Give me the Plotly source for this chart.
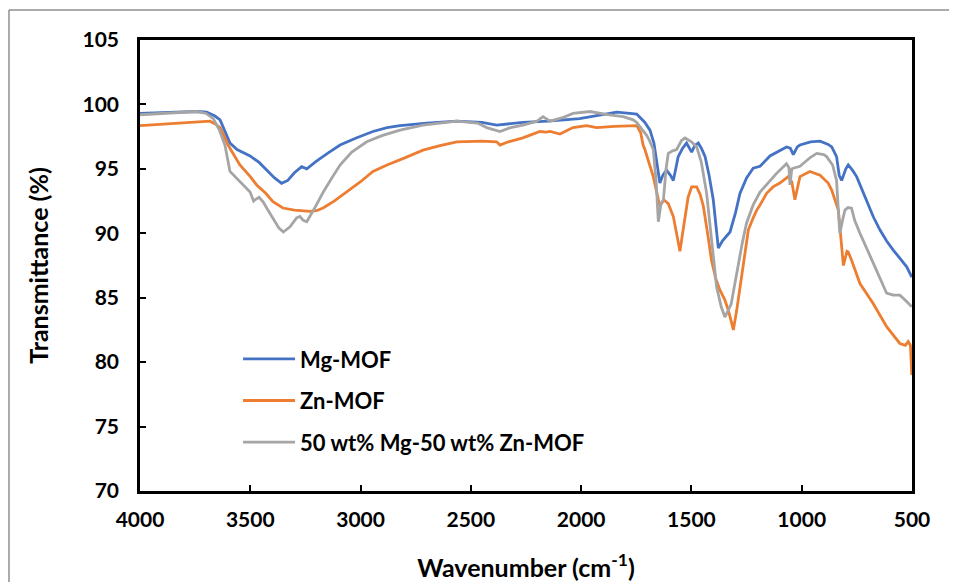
import plotly.graph_objects as go

# FTIR spectra
mg_wn = [4000, 3900, 3800, 3740, 3698, 3660, 3637, 3615, 3592, 3560, 3501, 3460, 3426, 3390, 3358,
         3330, 3300, 3267, 3244, 3200, 3150, 3093, 3020, 2944, 2880, 2821, 2700, 2564, 2450, 2383,
         2264, 2150, 2007, 1900, 1839, 1780, 1748, 1711, 1688, 1670, 1658, 1643, 1630, 1613, 1595,
         1582, 1560, 1540, 1522, 1499, 1485, 1469, 1455, 1438, 1420, 1401, 1378, 1360, 1325, 1300,
         1280, 1250, 1220, 1189, 1144, 1100, 1069, 1052, 1038, 1020, 1008, 960, 917, 880, 864,
         842, 830, 819, 800, 789, 770, 751, 706, 676, 645, 615, 585, 555, 524, 501]
mg_t = [99.3, 99.35, 99.4, 99.45, 99.4, 99.1, 98.8, 97.9, 97.0, 96.5, 96.0, 95.5, 94.9, 94.3, 93.88,
        94.1, 94.7, 95.17, 95.0, 95.6, 96.2, 96.85, 97.4, 97.9, 98.2, 98.35, 98.55, 98.7, 98.6, 98.4,
        98.6, 98.7, 98.9, 99.2, 99.4, 99.3, 99.25, 98.6, 98.0, 97.0, 95.7, 93.9, 94.5, 94.9, 94.5,
        94.1, 95.95, 96.6, 97.0, 96.3, 96.8, 97.0, 96.6, 95.95, 94.5, 92.6, 88.85, 89.4, 90.1, 91.6,
        93.1, 94.3, 95.05, 95.2, 96.0, 96.4, 96.7, 96.6, 96.1, 96.7, 96.85, 97.1, 97.15, 96.9, 96.7,
        95.95, 94.5, 94.1, 95.0, 95.3, 94.9, 94.4, 92.6, 91.3, 90.25, 89.4, 88.7, 88.1, 87.4, 86.6]

zn_wn = [4000, 3900, 3800, 3683, 3660, 3637, 3615, 3601, 3547, 3500, 3471, 3430, 3397, 3352, 3300,
         3229, 3200, 3170, 3120, 3063, 3000, 2944, 2880, 2800, 2717, 2640, 2564, 2450, 2383, 2368,
         2330, 2264, 2200, 2187, 2160, 2141, 2096, 2060, 2037, 1975, 1930, 1850, 1748, 1730, 1719,
         1711, 1690, 1673, 1655, 1643, 1625, 1605, 1582, 1565, 1552, 1540, 1529, 1515, 1499, 1476,
         1460, 1446, 1425, 1409, 1390, 1371, 1350, 1333, 1320, 1310, 1295, 1280, 1260, 1242, 1220,
         1204, 1189, 1159, 1130, 1099, 1061, 1045, 1031, 1020, 1008, 963, 917, 880, 864, 834,
         822, 811, 795, 789, 774, 736, 676, 615, 555, 530, 517, 507, 501]
zn_t = [98.35, 98.45, 98.6, 98.7, 98.5, 98.2, 97.4, 96.85, 95.3, 94.4, 93.75, 93.1, 92.45, 91.96, 91.8,
        91.7, 91.75, 91.96, 92.5, 93.2, 94.0, 94.8, 95.3, 95.85, 96.45, 96.8, 97.1, 97.15, 97.1, 96.85,
        97.1, 97.4, 97.8, 97.9, 97.85, 97.9, 97.7, 98.0, 98.2, 98.35, 98.2, 98.3, 98.35, 97.8, 96.85,
        96.5, 95.3, 94.4, 93.0, 92.1, 92.6, 92.3, 91.3, 89.8, 88.6, 90.0, 91.3, 92.8, 93.6, 93.6,
        93.0, 92.1, 89.8, 87.9, 86.5, 85.6, 84.9, 84.05, 83.2, 82.5, 84.0, 85.85, 88.2, 90.25, 91.2,
        91.8, 92.2, 93.1, 93.6, 93.9, 94.4, 94.0, 92.6, 93.6, 94.4, 94.8, 94.5, 93.9, 93.35, 91.8,
        89.5, 87.5, 88.6, 88.55, 87.9, 86.1, 84.55, 82.75, 81.45, 81.3, 81.6, 81.3, 79.0]

mix_wn = [4000, 3900, 3800, 3743, 3700, 3668, 3640, 3615, 3592, 3547, 3501, 3485, 3479, 3460, 3442,
          3420, 3397, 3370, 3350, 3320, 3290, 3275, 3260, 3244, 3210, 3169, 3130, 3093, 3040, 2972,
          2900, 2821, 2717, 2564, 2470, 2428, 2368, 2320, 2264, 2200, 2173, 2141, 2080, 2037, 1960,
          1880, 1810, 1764, 1748, 1703, 1690, 1673, 1660, 1650, 1638, 1627, 1615, 1605, 1585, 1567,
          1545, 1529, 1500, 1476, 1455, 1431, 1410, 1386, 1365, 1348, 1320, 1295, 1270, 1250, 1220,
          1189, 1144, 1114, 1069, 1058, 1053, 1045, 1038, 1008, 960, 932, 900, 887, 860, 842,
          833, 827, 815, 804, 790, 774, 760, 736, 676, 615, 585, 555, 530, 501]
mix_t = [99.2, 99.3, 99.35, 99.45, 99.3, 98.9, 98.0, 96.85, 94.8, 94.0, 93.2, 92.5, 92.6, 92.8, 92.45,
         91.8, 91.2, 90.4, 90.1, 90.5, 91.2, 91.3, 91.0, 90.9, 91.9, 93.2, 94.3, 95.3, 96.3, 97.1,
         97.6, 98.0, 98.4, 98.7, 98.55, 98.2, 97.9, 98.2, 98.4, 98.7, 99.05, 98.7, 99.0, 99.3, 99.45,
         99.2, 99.05, 98.8, 98.6, 97.6, 97.2, 96.5, 94.0, 90.9, 92.3, 92.6, 95.0, 96.2, 96.4, 96.5,
         97.2, 97.4, 97.1, 96.7, 95.5, 93.1, 89.7, 85.85, 84.3, 83.5, 84.5, 86.9, 89.2, 90.8, 92.2,
         93.2, 94.1, 94.65, 95.4, 95.1, 93.75, 95.0, 95.05, 95.2, 95.9, 96.2, 96.1, 95.95, 95.3, 94.1,
         91.5, 90.0, 91.0, 91.8, 92.0, 91.95, 91.0, 90.0, 87.7, 85.35, 85.2, 85.2, 84.8, 84.3]

x_ticks = [4000, 3500, 3000, 2500, 2000, 1500, 1000, 500]
y_ticks = [70, 75, 80, 85, 90, 95, 100, 105]

series = [
    ("Mg-MOF", mg_wn, mg_t, "#4472C4"),
    ("Zn-MOF", zn_wn, zn_t, "#ED7D31"),
    ("50 wt% Mg-50 wt% Zn-MOF", mix_wn, mix_t, "#A5A5A5"),
]

FONT = "Lato, 'Open Sans', sans-serif"

fig = go.Figure()
for i, (name, wn, t, color) in enumerate(series):
    fig.add_trace(go.Scatter(
        x=wn, y=t, mode="lines", name=name, legendgroup=str(i),
        line=dict(color=color, width=2.8),
    ))

axis_style = dict(
    showgrid=False, zeroline=False, showline=True, linecolor="black", linewidth=2.5,
    mirror=True, ticks="inside", ticklen=6, tickwidth=2, tickcolor="black",
    tickfont=dict(size=21, weight="bold"), automargin=False,
)

# the page adds an 8px body margin, so the figure is a little smaller than the window
fig.update_layout(
    width=949, height=574,
    margin=dict(l=132, r=45, t=32, b=91),
    plot_bgcolor="white", paper_bgcolor="white",
    font=dict(family=FONT, color="black"),
    showlegend=True,
    legend=dict(
        x=0.127, y=0.339, xanchor="left", yanchor="top",
        bgcolor="rgba(0,0,0,0)", tracegroupgap=10, itemwidth=52,
        font=dict(family=FONT, size=22, color="black", weight="bold"),
    ),
    xaxis=dict(
        range=[4000, 500], tickvals=x_ticks, ticklabelstandoff=8,
        title=dict(text="Wavenumber (cm<sup>-1</sup>)", font=dict(size=25, weight="bold"), standoff=30),
        **axis_style,
    ),
    yaxis=dict(
        range=[70, 105], tickvals=y_ticks, ticklabelstandoff=14,
        title=dict(text="Transmittance (%)", font=dict(size=25, weight="bold"), standoff=27),
        **axis_style,
    ),
)

# thin frame round the whole chart, as in the source image
fig.add_shape(type="rect", xref="paper", yref="paper",
              x0=-0.1697, x1=1.2, y0=-0.3, y1=1.0665,
              line=dict(color="#595959", width=1), layer="below")

fig.write_html("out.html")
